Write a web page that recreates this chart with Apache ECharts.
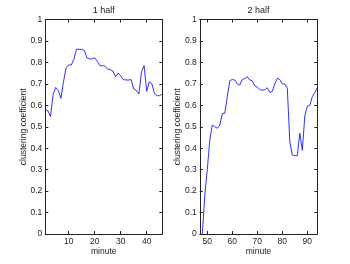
<!DOCTYPE html>
<html>
<head>
<meta charset="utf-8">
<script src="https://cdn.jsdelivr.net/npm/echarts@6/dist/echarts.min.js"></script>
<style>html,body{margin:0;padding:0;background:#fff}#c{width:350px;height:264px}</style>
</head>
<body>
<div id="c"></div>
<script>
var titles = ['1 half', '2 half'];
var xName = 'minute';
var yName = 'clustering coefficient';

var minutes1 = [1,2,3,4,5,6,7,8,9,10,11,12,13,14,15,16,17,18,19,20,21,22,23,24,25,26,27,28,29,30,31,32,33,34,35,36,37,38,39,40,41,42,43,44,45,46];
var values1 = [0.58,0.575,0.547,0.65,0.683,0.67,0.632,0.71,0.775,0.788,0.788,0.815,0.862,0.861,0.86,0.856,0.822,0.816,0.816,0.822,0.805,0.785,0.785,0.782,0.768,0.766,0.76,0.733,0.75,0.738,0.72,0.718,0.718,0.72,0.676,0.67,0.653,0.755,0.785,0.665,0.71,0.7,0.655,0.645,0.645,0.653];

var minutes2 = [48,49,50,51,52,53,54,55,56,57,58,59,60,61,62,63,64,65,66,67,68,69,70,71,72,73,74,75,76,77,78,79,80,81,82,83,84,85,86,87,88,89,90,91,92,93,94];
var values2 = [0,0.18,0.3,0.44,0.508,0.5,0.493,0.508,0.562,0.563,0.64,0.715,0.72,0.718,0.7,0.695,0.72,0.725,0.733,0.718,0.714,0.69,0.685,0.673,0.671,0.672,0.682,0.66,0.665,0.7,0.726,0.72,0.7,0.7,0.68,0.43,0.368,0.365,0.365,0.47,0.39,0.55,0.596,0.6,0.64,0.66,0.682];

var xRange1 = [1, 46];
var xRange2 = [47, 94];
var xTicks1 = [10, 20, 30, 40];
var xTicks2 = [50, 60, 70, 80, 90];

var FONT = '"Liberation Sans", Arial, Helvetica, sans-serif';
var AX = '#222';
var TXT = '#222';

function pairs(xs, ys) { return xs.map(function (x, i) { return [x, ys[i]]; }); }

var grids = [
  { left: 45.3, top: 19.5, width: 117, height: 214.5 },
  { left: 199.8, top: 19.5, width: 117.5, height: 214.5 }
];

function xAxisMain(gi, range, ticks) {
  return {
    type: 'value', gridIndex: gi, position: 'bottom', min: range[0], max: range[1],
    name: xName, nameLocation: 'middle', nameGap: 13, nameMoveOverlap: false,
    nameTextStyle: { fontFamily: FONT, fontSize: 8.5, color: TXT },
    axisLine: { show: true, onZero: false, lineStyle: { color: AX, width: 1 } },
    axisTick: { show: true, inside: true, length: 3, customValues: ticks, lineStyle: { color: AX } },
    axisLabel: { show: true, customValues: ticks, margin: 3.5, fontFamily: FONT, fontSize: 8.5, color: TXT },
    splitLine: { show: false }
  };
}
function xAxisTop(gi, range, ticks) {
  return {
    type: 'value', gridIndex: gi, position: 'top', min: range[0], max: range[1],
    axisLine: { show: true, onZero: false, lineStyle: { color: AX, width: 1 } },
    axisTick: { show: true, inside: true, length: 3, customValues: ticks, lineStyle: { color: AX } },
    axisLabel: { show: false }, splitLine: { show: false }
  };
}
function yAxisMain(gi) {
  return {
    type: 'value', gridIndex: gi, position: 'left', min: 0, max: 1, interval: 0.1,
    name: yName, nameLocation: 'middle', nameGap: 17.5, nameRotate: 90, nameMoveOverlap: false,
    nameTextStyle: { fontFamily: FONT, fontSize: 8.5, color: TXT },
    axisLine: { show: true, onZero: false, lineStyle: { color: AX, width: 1 } },
    axisTick: { show: true, inside: true, length: 3, lineStyle: { color: AX } },
    axisLabel: { show: true, margin: 3, fontFamily: FONT, fontSize: 8.5, color: TXT },
    splitLine: { show: false }
  };
}
function yAxisRight(gi) {
  return {
    type: 'value', gridIndex: gi, position: 'right', min: 0, max: 1, interval: 0.1,
    axisLine: { show: true, onZero: false, lineStyle: { color: AX, width: 1 } },
    axisTick: { show: true, inside: true, length: 3, lineStyle: { color: AX } },
    axisLabel: { show: false }, splitLine: { show: false }
  };
}

var chart = echarts.init(document.getElementById('c'), null, { renderer: 'canvas' });
chart.setOption({
  animation: false,
  backgroundColor: '#fff',
  title: [
    { text: titles[0], left: 103.8, top: 6.5, padding: 0, textAlign: 'center', textStyle: { fontFamily: FONT, fontSize: 9, fontWeight: 'normal', color: TXT } },
    { text: titles[1], left: 258.5, top: 6.5, padding: 0, textAlign: 'center', textStyle: { fontFamily: FONT, fontSize: 9, fontWeight: 'normal', color: TXT } }
  ],
  grid: grids,
  xAxis: [xAxisMain(0, xRange1, xTicks1), xAxisMain(1, xRange2, xTicks2), xAxisTop(0, xRange1, xTicks1), xAxisTop(1, xRange2, xTicks2)],
  yAxis: [yAxisMain(0), yAxisMain(1), yAxisRight(0), yAxisRight(1)],
  series: [
    { type: 'line', xAxisIndex: 0, yAxisIndex: 0, data: pairs(minutes1, values1), showSymbol: false, lineStyle: { color: '#1a1aff', width: 0.9 }, silent: true },
    { type: 'line', xAxisIndex: 1, yAxisIndex: 1, data: pairs(minutes2, values2), showSymbol: false, lineStyle: { color: '#1a1aff', width: 0.9 }, silent: true }
  ]
});
</script>
</body>
</html>
